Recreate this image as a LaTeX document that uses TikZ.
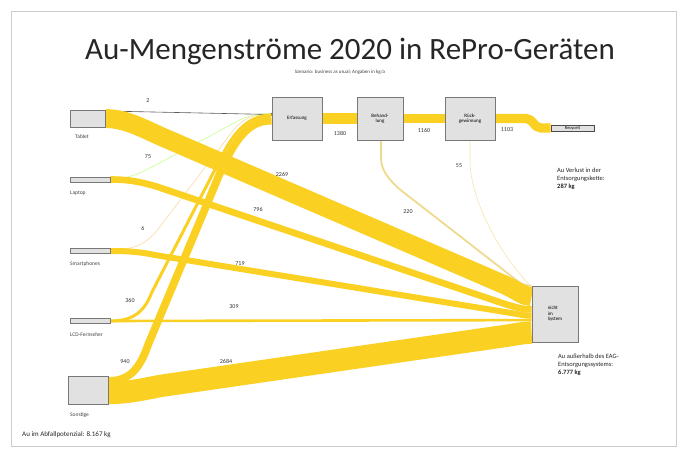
\documentclass[tikz,border=0pt]{standalone}
\usepackage{fontspec}
\setmainfont{Carlito}
\usetikzlibrary{calc}
\definecolor{flow}{RGB}{250,208,35}
\definecolor{paleflow}{RGB}{238,218,140}
\definecolor{boxfill}{RGB}{225,225,225}
\definecolor{boxline}{RGB}{120,120,120}
\tikzset{
  box/.style={draw=boxline, fill=boxfill, line width=0.8pt, inner sep=0pt, align=center,
    font=\fontsize{5}{5.5}\selectfont},
  band/.style={draw=flow, line cap=butt, line join=round},
  num/.style={font=\fontsize{6}{7}\selectfont, text=black!80},
  lab/.style={font=\fontsize{5.5}{6.5}\selectfont, text=black!75, anchor=west, inner sep=0pt},
  note/.style={font=\fontsize{6.5}{8}\selectfont, text=black!85, anchor=north west, align=left, inner sep=0pt},
}
\begin{document}
\begin{tikzpicture}[x=1pt,y=-1pt]
\useasboundingbox (0,0) rectangle (687,457);
\draw[gray!40, line width=0.6pt] (11,11) rectangle (676,446);

% title
\node[font=\fontsize{31}{34}\selectfont, text=black!85] (title) at (350,52) {Au-Mengenströme 2020 in RePro-Geräten};
\node[font=\fontsize{5}{6}\selectfont, text=black!75] (sub) at (340,72) {Szenario: business as usual; Angaben in kg/a};

% positions
\path
  (87.5,118.5) coordinate (ptab)
  (90,179.5) coordinate (plap)
  (90,251) coordinate (psma)
  (90,321) coordinate (plcd)
  (88,390) coordinate (pson)
  (297,118.5) coordinate (perf)
  (380,118.5) coordinate (pbeh)
  (470,118.5) coordinate (prue)
  (572.5,128) coordinate (prec)
  (555,314) coordinate (pnis);

\node[box, minimum width=35pt, minimum height=17pt] (tab) at (ptab) {};
\node[box, minimum width=40pt, minimum height=5pt] (lap) at (plap) {};
\node[box, minimum width=40pt, minimum height=5pt] (sma) at (psma) {};
\node[box, minimum width=40pt, minimum height=5pt] (lcd) at (plcd) {};
\node[box, minimum width=40pt, minimum height=28pt] (son) at (pson) {};
\node[box, minimum width=50pt, minimum height=43pt] (erf) at (perf) {};
\node[box, minimum width=46pt, minimum height=43pt] (beh) at (pbeh) {};
\node[box, minimum width=50pt, minimum height=43pt] (rue) at (prue) {};
\node[box, minimum width=43pt, minimum height=6pt, draw=black!70] (rec) at (prec) {};
\node[box, minimum width=46pt, minimum height=56pt] (nis) at (pnis) {};

% --- thin flows to Erfassung
\draw[paleflow!60!orange!60, line width=0.5pt]
  ($(sma.east)+(0,-1)$) .. controls (140,250) and (150,240) .. (162,224) -- (232,132)
  .. controls (242,118) and (255,113.6) .. ($(erf.west)+(0,-4.9)$);
\draw[green!50!yellow!45, line width=0.6pt]
  ($(lap.east)+(0,-1)$) .. controls (130,179) and (140,173) .. (152,167) -- (236,122)
  .. controls (246,116) and (258,113.3) .. ($(erf.west)+(0,-5.2)$);
\draw[black!65, line width=0.6pt]
  ($(tab.east)+(0,-7.5)$) -- ($(erf.west)+(0,-4)$);
\fill[black!75] ($(erf.west)+(0,-4)$) circle (1.5pt);

% --- losses to nicht im System
\draw[paleflow, line width=1.8pt, line cap=butt]
  ($(beh.south)+(1,0)$) -- (381,158) .. controls (381,170) and (388,178) .. (398,188)
  -- (515,279) .. controls (522,284.5) .. ($(nis.west)+(0,-28)$);
\draw[paleflow!70, line width=0.6pt]
  ($(rue.south)+(0,0)$) -- (470,160) .. controls (470,200) and (500,255) .. ($(nis.west)+(0,-27)$);

% --- main yellow bands
% Sonstige -> Erfassung (940)
\draw[band, line width=7.8pt]
  ($(son.east)+(0,-9)$) .. controls (130,381) and (140,368) .. (148,345) -- (215,185)
  .. controls (235,135) and (250,120.6) .. ($(erf.west)+(0,2.1)$);
% LCD -> Erfassung (360)
\draw[band, line width=3pt]
  (lcd.east) .. controls (135,321) and (145,310) .. (152,292) -- (225,150)
  .. controls (240,123) and (255,115.2) .. ($(erf.west)+(0,-3.3)$);
% Tablet -> nicht im System (2269)
\draw[band, line width=18.9pt]
  (tab.east) .. controls (125,119) and (138,126) .. (160,136) -- (505,285)
  .. controls (518,291) and (524,296.7) .. ($(nis.west)+(0,-17.3)$);
% Laptop -> nicht (796)
\draw[band, line width=6.6pt]
  (lap.east) .. controls (130,179.5) and (140,182) .. (155,186) -- (505,304)
  .. controls (518,308) and (524,309.5) .. ($(nis.west)+(0,-4.5)$);
% Smartphones -> nicht (719)
\draw[band, line width=6pt]
  (sma.east) .. controls (130,251) and (140,252) .. (155,255) -- (505,312)
  .. controls (518,314) and (524,315.8) .. ($(nis.west)+(0,1.8)$);
% LCD -> nicht (309)
\draw[band, line width=2.6pt]
  (lcd.east) -- ($(nis.west)+(0,6.1)$);
% Sonstige -> nicht (2684)
\draw[band, line width=22.4pt]
  ($(son.east)+(0,3)$) .. controls (125,393) and (140,390) .. (160,386) -- (505,336)
  .. controls (518,334) and (524,332.6) .. ($(nis.west)+(0,18.6)$);
% Erfassung -> Behandlung (1380)
\draw[band, line width=11.5pt] (erf.east) -- (beh.west);
% Behandlung -> Rueckgewinnung (1160)
\draw[band, line width=9.7pt] (beh.east) -- (rue.west);
% Rueckgewinnung -> Recycelt (1103)
\draw[band, line width=9.2pt]
  (rue.east) -- (526,118.5) .. controls (533,118.5) and (534,128) .. (541,128) -- (rec.west);

% redraw boxes on top
\node[box, minimum width=35pt, minimum height=17pt] at (ptab) {};
\node[box, minimum width=40pt, minimum height=5pt] at (plap) {};
\node[box, minimum width=40pt, minimum height=5pt] at (psma) {};
\node[box, minimum width=40pt, minimum height=5pt] at (plcd) {};
\node[box, minimum width=40pt, minimum height=28pt] at (pson) {};
\node[box, minimum width=50pt, minimum height=43pt] at (perf) {Erfassung};
\node[box, minimum width=46pt, minimum height=43pt] at (pbeh) {Behand-\\lung};
\node[box, minimum width=50pt, minimum height=43pt] at (prue) {Rück-\\gewinnung};
\node[box, minimum width=43pt, minimum height=6pt, draw=black!70, font=\fontsize{4.5}{5}\selectfont] at (prec) {Recycelt};
\node[box, minimum width=46pt, minimum height=56pt, align=left] at (pnis) {nicht\\im\\System};

% box labels
\node[lab] (ltab) at (75,137) {Tablet};
\node[lab] (llap) at (70,193) {Laptop};
\node[lab] (lsma) at (70,264) {Smartphones};
\node[lab] (llcd) at (70,335) {LCD-Fernseher};
\node[lab] (lson) at (70,415) {Sonstige};

% numbers
\node[num] (n1) at (148,101) {2};
\node[num] (n2) at (148,157) {75};
\node[num] (n3) at (143,228) {6};
\node[num] (n4) at (130,300) {360};
\node[num] (n5) at (125,362) {940};
\node[num] (n6) at (282,174) {2269};
\node[num] (n7) at (258,209) {796};
\node[num] (n8) at (240,264) {719};
\node[num] (n9) at (234,307) {309};
\node[num] (n10) at (226,361) {2684};
\node[num] (n11) at (340,133) {1380};
\node[num] (n12) at (424,130) {1160};
\node[num] (n13) at (507,130) {1103};
\node[num] (n14) at (408,212) {220};
\node[num] (n15) at (459,166) {55};

% notes
\node[note] (t1) at (557,168) {Au Verlust in der\\Entsorgungskette:\\\textbf{287 kg}};
\node[note] (t2) at (558,354) {Au außerhalb des EAG-\\Entsorgungssystems:\\\textbf{6.777 kg}};
\node[note, font=\fontsize{7}{8}\selectfont, anchor=west] (t3) at (22,435) {Au im Abfallpotenzial: 8.167 kg};
\end{tikzpicture}
\end{document}
